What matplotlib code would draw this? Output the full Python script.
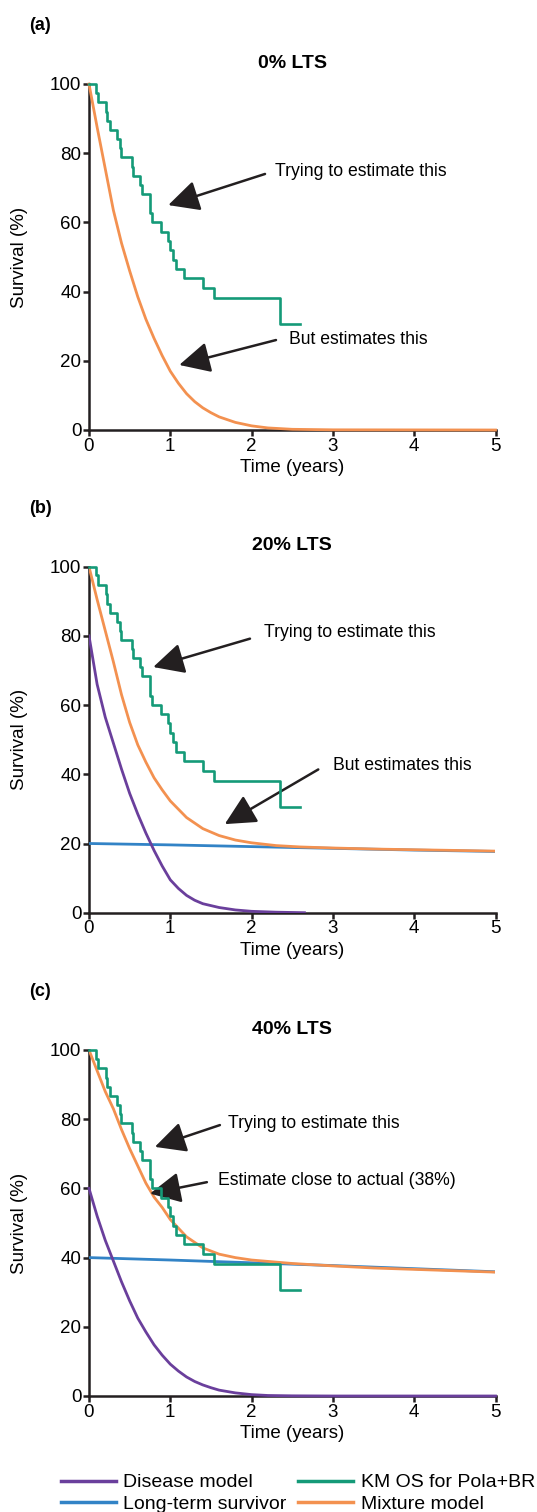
import matplotlib
matplotlib.use('Agg')
import matplotlib.pyplot as plt
from matplotlib.lines import Line2D

plt.rcParams['font.family'] = ['Liberation Sans', 'DejaVu Sans']

# KM OS for Pola+BR (same in all panels)
km_time = [0, 0.091, 0.111, 0.206, 0.226, 0.255, 0.349, 0.378, 0.390, 0.526, 0.538,
           0.628, 0.653, 0.751, 0.780, 0.883, 0.973, 0.994, 1.039, 1.076, 1.170,
           1.408, 1.532, 2.349, 2.595]
km_surv = [100, 97.5, 94.7, 92.0, 89.3, 86.7, 84.1, 81.4, 78.8, 76.1, 73.5,
           70.9, 68.3, 62.7, 60.0, 57.3, 54.7, 51.9, 49.2, 46.5, 43.8,
           41.0, 38.2, 30.6, 30.6]

# (a) 0% LTS - mixture model
mix_a_t = [0, 0.1, 0.2, 0.3, 0.4, 0.5, 0.6, 0.7, 0.8, 0.9, 1.0, 1.1, 1.2, 1.3, 1.4,
           1.5, 1.6, 1.8, 2.0, 2.2, 2.5, 3.0, 5.0]
mix_a = [100, 87.5, 75.5, 63.5, 54, 46, 38.5, 32, 26.5, 21.5, 17, 13.5, 10.5, 8.2, 6.4,
         5, 3.8, 2.2, 1.2, 0.6, 0.2, 0.05, 0]

# (b) 20% LTS
mix_b_t = [0, 0.1, 0.2, 0.3, 0.4, 0.5, 0.6, 0.7, 0.8, 0.9, 1.0, 1.2, 1.4, 1.6, 1.8,
           2.0, 2.3, 2.6, 3.0, 3.5, 4.0, 4.5, 5.0]
mix_b = [100, 90.5, 81.5, 72.5, 63, 55, 48.5, 43.5, 39, 35.5, 32.3, 27.5, 24.3, 22.3, 21,
         20.2, 19.4, 19, 18.7, 18.4, 18.2, 18.0, 17.8]
dis_b_t = [0, 0.1, 0.2, 0.3, 0.4, 0.5, 0.6, 0.7, 0.8, 0.9, 1.0, 1.1, 1.2, 1.3, 1.4,
           1.6, 1.8, 2.0, 2.3, 2.65]
dis_b = [80, 66, 56.5, 49, 41.5, 34.5, 28.5, 23, 18, 13.5, 9.5, 7, 5, 3.6, 2.6,
         1.5, 0.8, 0.4, 0.15, 0]
lts_b_t = [0, 1, 2, 3, 4, 5]
lts_b = [20, 19.6, 19.1, 18.6, 18.1, 17.7]

# (c) 40% LTS
mix_c_t = [0, 0.1, 0.2, 0.3, 0.4, 0.5, 0.6, 0.7, 0.8, 0.9, 1.0, 1.2, 1.4, 1.6, 1.8,
           2.0, 2.5, 3.0, 3.5, 4.0, 4.5, 5.0]
mix_c = [100, 94, 88, 83, 77, 71.5, 66.5, 61.5, 57.5, 54.5, 51, 46, 42.8, 41, 40,
         39.3, 38.3, 37.6, 37, 36.6, 36.2, 35.8]
dis_c_t = [0, 0.1, 0.2, 0.3, 0.4, 0.5, 0.6, 0.7, 0.8, 0.9, 1.0, 1.1, 1.2, 1.3, 1.4,
           1.5, 1.6, 1.8, 2.0, 2.2, 2.5, 3.0, 5.0]
dis_c = [60, 52, 45, 39, 33, 27.5, 22.5, 18.5, 14.8, 11.8, 9.2, 7.2, 5.5, 4.2, 3.2,
         2.4, 1.7, 0.9, 0.4, 0.15, 0.05, 0, 0]
lts_c_t = [0, 1, 2, 3, 4, 5]
lts_c = [40, 39.3, 38.5, 37.7, 36.8, 35.9]

C_DIS = '#6a3f9c'
C_LTS = '#3283c6'
C_KM = '#159a78'
C_MIX = '#f39150'
INK = '#231f20'

fig = plt.figure(figsize=(5.37, 15.12), dpi=100)
L, W, H = 89/537, 406.5/537, 346/1512
tops = [84, 566.7, 1050]
axes = [fig.add_axes([L, 1 - (t + 346)/1512, W, H]) for t in tops]

panels = ['(a)', '(b)', '(c)']
titles = ['0% LTS', '20% LTS', '40% LTS']

for i, ax in enumerate(axes):
    ax.step(km_time, km_surv, where='post', color=C_KM, lw=1.9, zorder=4, clip_on=False)
    ax.set_xlim(0, 5)
    ax.set_ylim(0, 100)
    ax.set_xticks(range(6))
    ax.set_yticks([0, 20, 40, 60, 80, 100])
    for s in ['top', 'right']:
        ax.spines[s].set_visible(False)
    for s in ['left', 'bottom']:
        ax.spines[s].set_linewidth(1.8)
        ax.spines[s].set_color(INK)
    ax.tick_params(width=1.8, length=4.5, labelsize=13.5, color=INK, pad=1)
    ax.set_xlabel('Time (years)', fontsize=13.5)
    ax.set_ylabel('Survival (%)', fontsize=13.5)
    ax.xaxis.set_label_coords(0.5, -0.085)
    ax.yaxis.set_label_coords(-0.15, 0.5)
    ax.text(0.5, 1 + 21/346, titles[i], transform=ax.transAxes, ha='center', va='center',
            fontsize=14, weight='bold')
    fig.text(29/537, 1 - (tops[i] - 58)/1512, panels[i], ha='left', va='center',
             fontsize=13, weight='bold')

arw = dict(arrowstyle='-|>,head_length=0.9,head_width=0.45', lw=1.8, color=INK,
           shrinkA=0, shrinkB=0, mutation_scale=21)
fs = 12.7

ax = axes[0]
ax.plot(mix_a_t, mix_a, color=C_MIX, lw=2, zorder=3, clip_on=False)
ax.annotate('', xy=(0.975, 65), xytext=(2.165, 74), arrowprops=arw)
ax.text(2.29, 74.6, 'Trying to estimate this', fontsize=fs, va='center')
ax.annotate('', xy=(1.11, 18.8), xytext=(2.30, 26), arrowprops=arw)
ax.text(2.46, 26.3, 'But estimates this', fontsize=fs, va='center')

ax = axes[1]
ax.plot(lts_b_t, lts_b, color=C_LTS, lw=2, zorder=3)
ax.plot(dis_b_t, dis_b, color=C_DIS, lw=2, zorder=3)
ax.plot(mix_b_t, mix_b, color=C_MIX, lw=2, zorder=3)
ax.annotate('', xy=(0.79, 71), xytext=(1.98, 79.2), arrowprops=arw)
ax.text(2.156, 80.9, 'Trying to estimate this', fontsize=fs, va='center')
ax.annotate('', xy=(1.67, 25.6), xytext=(2.82, 41.4), arrowprops=arw)
ax.text(3.0, 42.5, 'But estimates this', fontsize=fs, va='center')

ax = axes[2]
ax.plot(lts_c_t, lts_c, color=C_LTS, lw=2, zorder=3)
ax.plot(dis_c_t, dis_c, color=C_DIS, lw=2, zorder=3, clip_on=False)
ax.plot(mix_c_t, mix_c, color=C_MIX, lw=2, zorder=3)
ax.annotate('', xy=(0.81, 72), xytext=(1.61, 78.3), arrowprops=arw)
ax.text(1.71, 78.8, 'Trying to estimate this', fontsize=fs, va='center')
ax.annotate('', xy=(0.75, 58.5), xytext=(1.45, 61.8), arrowprops=arw)
ax.text(1.59, 62.3, 'Estimate close to actual (38%)', fontsize=fs, va='center')

handles = [Line2D([], [], color=C_DIS, lw=2.5), Line2D([], [], color=C_LTS, lw=2.5),
           Line2D([], [], color=C_KM, lw=2.5), Line2D([], [], color=C_MIX, lw=2.5)]
labels = ['Disease model', 'Long-term survivor', 'KM OS for Pola+BR', 'Mixture model']
fig.legend(handles, labels, ncol=2, loc='lower center', bbox_to_anchor=(0.555, -0.007),
           frameon=False, fontsize=14, handlelength=2.8, handletextpad=0.4,
           columnspacing=0.6, labelspacing=0.2, borderpad=0)

fig.savefig('out.png', dpi=100)
